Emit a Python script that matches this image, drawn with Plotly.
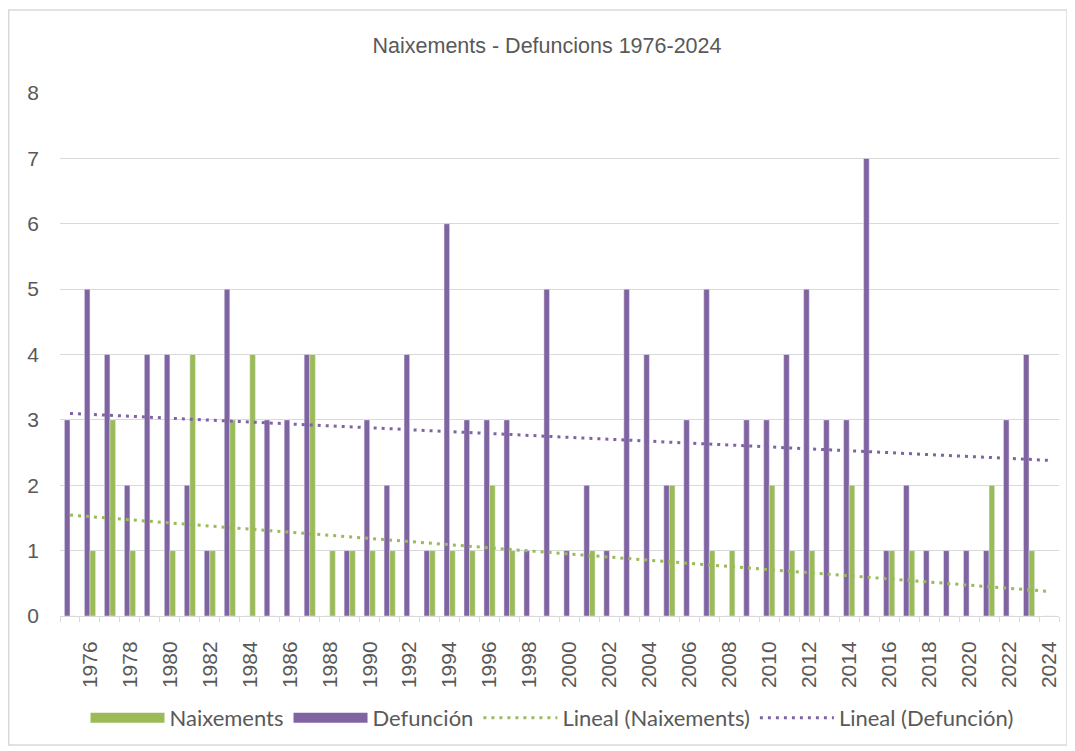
import numpy as np
import plotly.graph_objects as go

years = list(range(1975, 2025))
naixements = [0, 1, 3, 1, 0, 1, 4, 1, 3, 4,
              0, 0, 4, 1, 1, 1, 1, 0, 1, 1,
              1, 2, 1, 0, 0, 0, 1, 0, 0, 0,
              2, 0, 1, 1, 0, 2, 1, 1, 0, 2,
              0, 1, 1, 0, 0, 0, 2, 0, 1, 0]
defuncio = [3, 5, 4, 2, 4, 4, 2, 1, 5, 0,
            3, 3, 4, 0, 1, 3, 2, 4, 1, 6,
            3, 3, 3, 1, 5, 1, 2, 1, 5, 4,
            2, 3, 5, 0, 3, 3, 4, 5, 3, 3,
            7, 1, 2, 1, 1, 1, 1, 3, 4, 0]
tick_years = list(range(1976, 2025, 2))

GREEN = "#9BBB59"
PURPLE = "#8064A2"
TXT = "#595959"
GRID = "#D9D9D9"

x = np.array(years, dtype=float)
def trend(vals):
    m, b = np.polyfit(x, np.array(vals, dtype=float), 1)
    return m * x + b

W, H = 1067, 743
L, R, T, B = 52, 16, 85, 135
PW, PH = W - L - R, H - T - B

fig = go.Figure()
fig.add_trace(go.Bar(x=years, y=defuncio, name="Defunción", marker_color=PURPLE,
                     legendgroup="d", showlegend=False))
fig.add_trace(go.Bar(x=years, y=naixements, name="Naixements", marker_color=GREEN,
                     legendgroup="n", showlegend=False))
# legend entries drawn as wide rectangles (Excel style)
fig.add_trace(go.Scatter(x=[None], y=[None], mode="lines", name="Naixements",
                         legendgroup="n", legendrank=1,
                         line=dict(color=GREEN, width=13)))
fig.add_trace(go.Scatter(x=[None], y=[None], mode="lines", name="Defunción",
                         legendgroup="d", legendrank=2,
                         line=dict(color=PURPLE, width=13)))
fig.add_trace(go.Scatter(x=years, y=trend(naixements), mode="lines",
                         name="Lineal (Naixements)", legendrank=3,
                         line=dict(color=GREEN, width=3, dash="3px,5px")))
fig.add_trace(go.Scatter(x=years, y=trend(defuncio), mode="lines",
                         name="Lineal (Defunción)", legendrank=4,
                         line=dict(color=PURPLE, width=3, dash="3px,5px")))

fig.update_layout(
    width=W, height=H,
    margin=dict(l=L, r=R, t=T, b=B),
    paper_bgcolor="white", plot_bgcolor="white",
    barmode="group", bargap=0.44, bargroupgap=0,
    font=dict(family="Liberation Sans, Arial, sans-serif", color=TXT, size=21),
    title=dict(text="Naixements - Defuncions 1976-2024", x=(539 - L) / PW,
               xanchor="center", xref="paper", y=1 - 37 / H, yanchor="middle",
               font=dict(size=21.5, color=TXT)),
    legend=dict(orientation="h", x=(544 - L) / PW, xanchor="center",
                y=(PH - (710 - T)) / PH, yanchor="middle",
                font=dict(family="Lato, Open Sans, sans-serif", size=22, color=TXT),
                itemwidth=74, traceorder="normal"),
    xaxis=dict(range=[1974.5, 2024.5], tickmode="array", tickvals=tick_years,
               ticktext=[str(t) for t in tick_years], tickangle=-90,
               showgrid=False, showline=True, linecolor=GRID, linewidth=1,
               ticks="", ticklabelstandoff=16, tickfont=dict(size=21, color=TXT),
               minor=dict(ticks="outside", tick0=0.5, dtick=1, ticklen=5,
                          tickcolor=GRID, showgrid=False),
               zeroline=False),
    yaxis=dict(range=[0, 8], dtick=1, tick0=0, showgrid=True, gridcolor=GRID,
               gridwidth=1, zeroline=False, showline=False, ticks="",
               ticklabelstandoff=20, tickfont=dict(size=21, color=TXT)),
    shapes=[dict(type="rect", xref="paper", yref="paper",
                 x0=(0.75 - L) / PW, x1=(1059 - L) / PW,
                 y0=(T + PH - 737) / PH, y1=(T + PH - 2) / PH,
                 line=dict(color=GRID, width=1.5), layer="below")],
)

fig.write_html("out.html")
